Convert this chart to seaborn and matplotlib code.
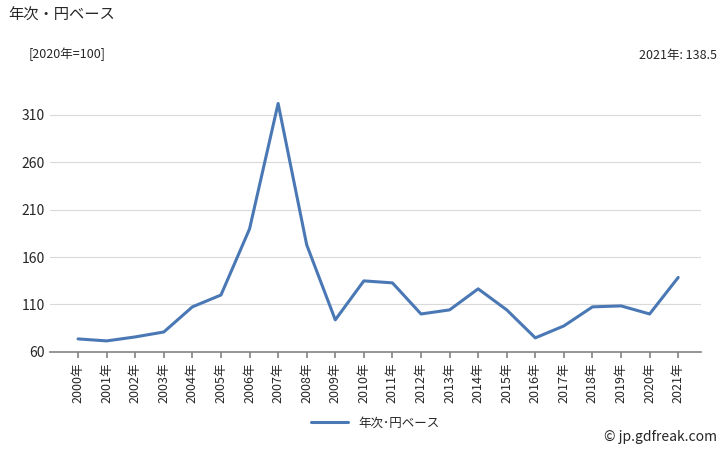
import matplotlib
matplotlib.use("Agg")
import matplotlib.pyplot as plt
import seaborn as sns
import pandas as pd

years = [f"{y}年" for y in range(2000, 2022)]
values = [73.7, 71.6, 75.8, 81.0, 107.5, 120.0, 189.7, 322.0, 172.9, 93.8, 134.9, 132.8,
          100.0, 104.3, 126.5, 104.3, 74.8, 87.4, 107.5, 108.5, 100.0, 138.5]
yticks = [60, 110, 160, 210, 260, 310]

sns.set_theme(style="white")
plt.rcParams['font.family'] = ['Noto Sans CJK JP', 'DejaVu Sans']

df = pd.DataFrame({"year": years, "value": values, "s": "年次･円ベース"})
fig = plt.figure(figsize=(7.28, 4.5), dpi=100)
ax = fig.add_axes([0.068, 0.218, 0.895, 0.59])
sns.lineplot(data=df, x="year", y="value", hue="s", palette=["#4a78b5"], lw=2.2, ax=ax, sort=False)
ax.set_ylim(60, 340)
ax.set_yticks(yticks)
ax.set_xlim(-1.0, len(years) - 0.2)
ax.grid(axis='y', color='#d9d9d9', lw=0.8)
for s in ['top', 'right', 'left']:
    ax.spines[s].set_visible(False)
ax.spines['bottom'].set_color('#888888')
ax.tick_params(axis='x', rotation=90, labelsize=9, length=4, color='#888888', bottom=True)
ax.tick_params(axis='y', labelsize=10, length=0)
ax.set_xlabel(""); ax.set_ylabel("")
ax.legend(loc='upper center', bbox_to_anchor=(0.5, -0.2), frameon=False, fontsize=9, handlelength=3)
fig.text(0.012, 0.955, "年次・円ベース", fontsize=11)
fig.text(0.04, 0.87, "[2020年=100]", fontsize=9)
fig.text(0.985, 0.87, "2021年: 138.5", fontsize=9, ha='right')
fig.text(0.985, 0.02, "© jp.gdfreak.com", fontsize=10, ha='right')
fig.savefig("out.png")
